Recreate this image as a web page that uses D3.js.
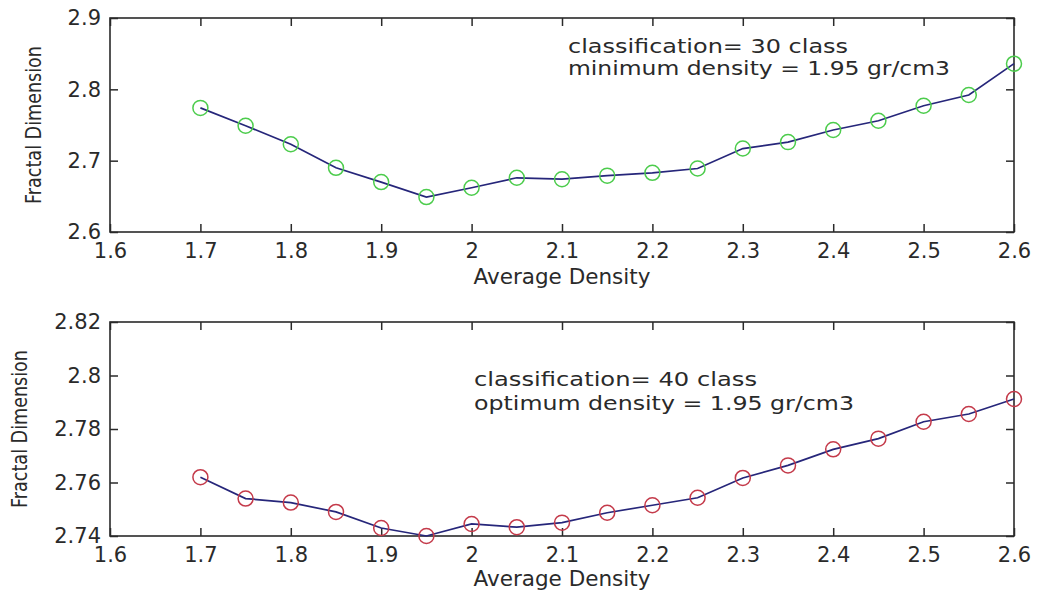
<!DOCTYPE html>
<html>
<head>
<meta charset="utf-8">
<script src="https://cdn.jsdelivr.net/npm/d3@7"></script>
<style>
  body { margin: 0; background: #fff; }
  svg { display: block; }
  .tick text { font-family: "DejaVu Sans", sans-serif; font-size: 21px; fill: #2a2a2a; }
  .tick line { stroke: #2a2a2a; stroke-width: 1.5; }
  .domain { stroke: none; }
</style>
</head>
<body>
<div id="container"></div>
<script>
/* DATA */
const density = [1.7, 1.75, 1.8, 1.85, 1.9, 1.95, 2.0, 2.05, 2.1, 2.15, 2.2, 2.25, 2.3, 2.35, 2.4, 2.45, 2.5, 2.55, 2.6]
const fractal30 = [2.774, 2.749, 2.723, 2.690, 2.670, 2.649, 2.662, 2.676, 2.674, 2.679, 2.683, 2.689, 2.717, 2.726, 2.743, 2.756, 2.777, 2.792, 2.836]
const fractal40 = [2.762, 2.754, 2.7525, 2.749, 2.743, 2.740, 2.7445, 2.7433, 2.745, 2.7487, 2.7515, 2.7543, 2.7617, 2.7664, 2.7724, 2.7764, 2.7827, 2.7856, 2.7912]

const xTicks = [1.6, 1.7, 1.8, 1.9, 2.0, 2.1, 2.2, 2.3, 2.4, 2.5, 2.6]
const yTicks30 = [2.6, 2.7, 2.8, 2.9]
const yTicks40 = [2.74, 2.76, 2.78, 2.8, 2.82]

const notes30 = ["classification= 30 class", "minimum density = 1.95 gr/cm3"]
const notes40 = ["classification= 40 class", "optimum density = 1.95 gr/cm3"]

/* CONSTANTS */
const width = 1052
const height = 592
const left = 110, right = 1014

const svg = d3.select("#container")
  .append("svg")
  .attr("width", width)
  .attr("height", height)

const fmt = d => String(+d.toFixed(2))

function panel(cfg) {
  const xScale = d3.scaleLinear().domain([1.6, 2.6]).range([left, right])
  const yScale = d3.scaleLinear().domain(cfg.yDomain).range([cfg.bottom, cfg.top])

  const g = svg.append("g")

  // ticks on all four sides, pointing inward (matlab style)
  g.append("g")
    .attr("transform", `translate(0, ${cfg.bottom})`)
    .call(d3.axisBottom(xScale).tickValues(xTicks).tickFormat(fmt).tickSize(-8).tickPadding(11))
  g.append("g")
    .attr("transform", `translate(0, ${cfg.top})`)
    .call(d3.axisTop(xScale).tickValues(xTicks).tickFormat("").tickSize(-8))
  g.append("g")
    .attr("transform", `translate(${left}, 0)`)
    .call(d3.axisLeft(yScale).tickValues(cfg.yTicks).tickFormat(fmt).tickSize(-8).tickPadding(9))
  g.append("g")
    .attr("transform", `translate(${right}, 0)`)
    .call(d3.axisRight(yScale).tickValues(cfg.yTicks).tickFormat("").tickSize(-8))

  // box
  g.append("rect")
    .attr("x", left)
    .attr("y", cfg.top)
    .attr("width", right - left)
    .attr("height", cfg.bottom - cfg.top)
    .attr("fill", "none")
    .attr("stroke", "#2a2a2a")
    .attr("stroke-width", 1.6)

  const pts = density.map((d, i) => [d, cfg.values[i]])

  const line = d3.line()
    .x(d => xScale(d[0]))
    .y(d => yScale(d[1]))

  g.append("path")
    .datum(pts)
    .attr("d", line)
    .attr("fill", "none")
    .attr("stroke", "#26267a")
    .attr("stroke-width", 1.7)

  g.selectAll(".mark")
    .data(pts)
    .join("circle")
      .attr("class", "mark")
      .attr("cx", d => xScale(d[0]))
      .attr("cy", d => yScale(d[1]))
      .attr("r", 7.5)
      .attr("fill", "none")
      .attr("stroke", cfg.markColor)
      .attr("stroke-width", 1.5)

  // annotation
  cfg.notes.forEach((t, i) => {
    g.append("text")
      .attr("x", cfg.noteX)
      .attr("y", cfg.noteY[i])
      .attr("textLength", cfg.noteLen[i])
      .attr("lengthAdjust", "spacingAndGlyphs")
      .style("font-family", "DejaVu Sans, sans-serif")
      .style("font-size", "20px")
      .style("fill", "#2a2a2a")
      .text(t)
  })

  // x axis label
  g.append("text")
    .attr("text-anchor", "middle")
    .attr("x", (left + right) / 2)
    .attr("y", cfg.bottom + cfg.xLabelGap)
    .style("font-family", "DejaVu Sans, sans-serif")
    .style("font-size", "21.5px")
    .style("fill", "#2a2a2a")
    .text("Average Density")

  // y axis label
  g.append("text")
    .attr("text-anchor", "middle")
    .attr("transform", `translate(${cfg.yLabelX}, ${(cfg.top + cfg.bottom) / 2}) rotate(-90)`)
    .attr("textLength", 158)
    .attr("lengthAdjust", "spacingAndGlyphs")
    .style("font-family", "DejaVu Sans, sans-serif")
    .style("font-size", "21px")
    .style("fill", "#2a2a2a")
    .text("Fractal Dimension")
}

panel({
  top: 18, bottom: 232, yDomain: [2.6, 2.9], yTicks: yTicks30,
  values: fractal30, markColor: "#4ccc4c",
  notes: notes30, noteX: 568, noteY: [53, 75], noteLen: [280, 382],
  yLabelX: 41, xLabelGap: 52
})

panel({
  top: 322, bottom: 536, yDomain: [2.74, 2.82], yTicks: yTicks40,
  values: fractal40, markColor: "#c43a4a",
  notes: notes40, noteX: 474, noteY: [386, 410], noteLen: [283, 380],
  yLabelX: 27, xLabelGap: 50
})
</script>
</body>
</html>
